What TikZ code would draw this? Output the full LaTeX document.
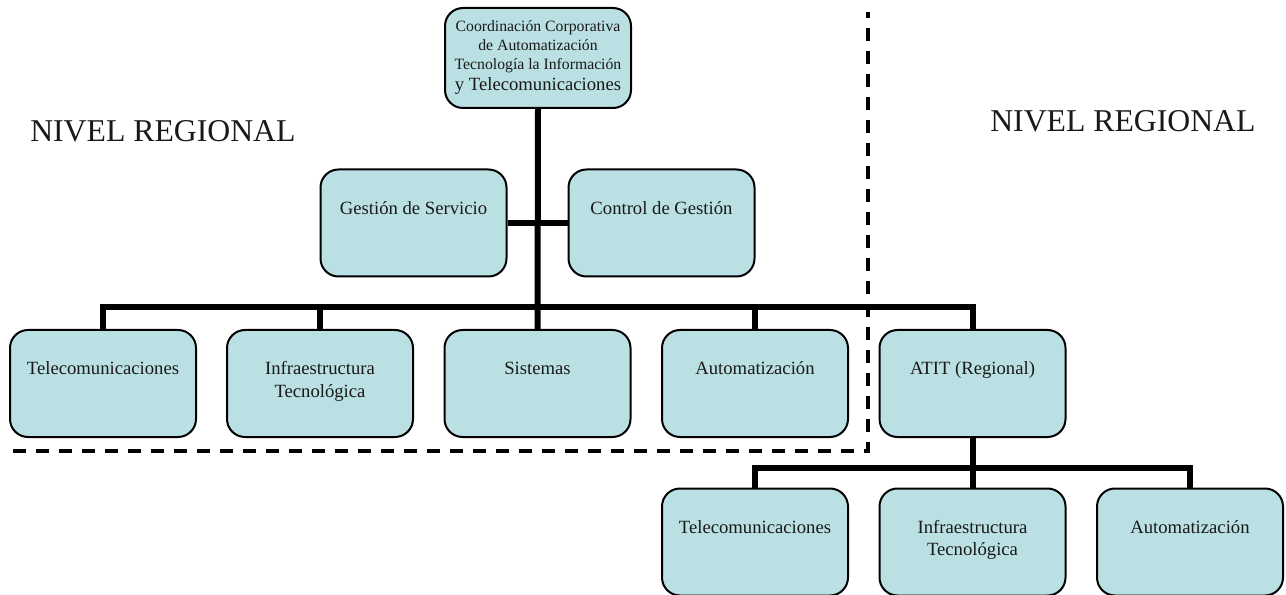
\documentclass[tikz,border=0pt]{standalone}
\usepackage{fontspec}
\setmainfont{Liberation Serif}
\definecolor{boxfill}{RGB}{187,224,227}
\definecolor{txt}{RGB}{25,25,25}
\newcommand\bxt[1]{\parbox[c][80.25pt][t]{139.5pt}{\centering\rule{0pt}{33.75pt}#1}}
\begin{document}
\begin{tikzpicture}[x=0.75pt,y=-0.75pt,
  orgbox/.style={draw=black, fill=boxfill, rounded corners=13.5pt, line width=1.5pt, inner sep=0pt,
    text=txt, font=\fontsize{14}{16.5}\selectfont},
  conn/.style={line width=4.5pt, line join=miter},
  dashline/.style={line width=2.6pt, dash pattern=on 9.75pt off 7.5pt},
  lvl/.style={font=\fontsize{23.8}{28}\selectfont, text=txt, inner sep=0pt, anchor=base west}]
\useasboundingbox (0,0) rectangle (1286,595);
% dashed boundary
\coordinate (d1) at (13,451);
\coordinate (dc) at (868,451);
\coordinate (d2) at (868,12);
\draw[dashline] (d1) -- (dc) -- (d2);
% nodes
\node[orgbox] (top) at (538,58) {\parbox[c][75pt][t]{139.5pt}{\centering\fontsize{11.8}{14}\selectfont\rule{0pt}{18pt}Coordinación Corporativa\\ de Automatización\\ Tecnología la Información\\[2pt] {\fontsize{14}{15}\selectfont y Telecomunicaciones}}};
\node[orgbox] (gs) at (413.5,223) {\bxt{Gestión de Servicio}};
\node[orgbox] (cg) at (661.5,223) {\bxt{Control de Gestión}};
\node[orgbox] (tel) at (103,383.5) {\bxt{Telecomunicaciones}};
\node[orgbox] (inf) at (320,383.5) {\bxt{Infraestructura\\ Tecnológica}};
\node[orgbox] (sis) at (537.5,383.5) {\bxt{Sistemas}};
\node[orgbox] (aut) at (755,383.5) {\bxt{Automatización}};
\node[orgbox] (ati) at (972.5,383.5) {\bxt{ATIT (Regional)}};
\node[orgbox] (rtel) at (755,542) {\bxt{Telecomunicaciones}};
\node[orgbox] (rinf) at (972.5,542) {\bxt{Infraestructura\\ Tecnológica}};
\node[orgbox] (raut) at (1190,542) {\bxt{Automatización}};
% connectors
\coordinate (bar) at (538,307);
\coordinate (bar2) at (972.5,468);
\draw[conn] (top.south) -- (sis.north);
\draw[conn] (gs.east) -- (cg.west);
\draw[conn] (tel.north) -- (tel.north |- bar) -- (ati.north |- bar) -- (ati.north);
\draw[conn] (inf.north) -- (inf.north |- bar);
\draw[conn] (aut.north) -- (aut.north |- bar);
\draw[conn] (ati.south) -- (rinf.north);
\draw[conn] (rtel.north) -- (rtel.north |- bar2) -- (raut.north |- bar2) -- (raut.north);
% level labels
\node[lvl] (lvlA) at (30,142) {NIVEL REGIONAL};
\node[lvl] (lvlB) at (990,132) {NIVEL REGIONAL};
\end{tikzpicture}
\end{document}
